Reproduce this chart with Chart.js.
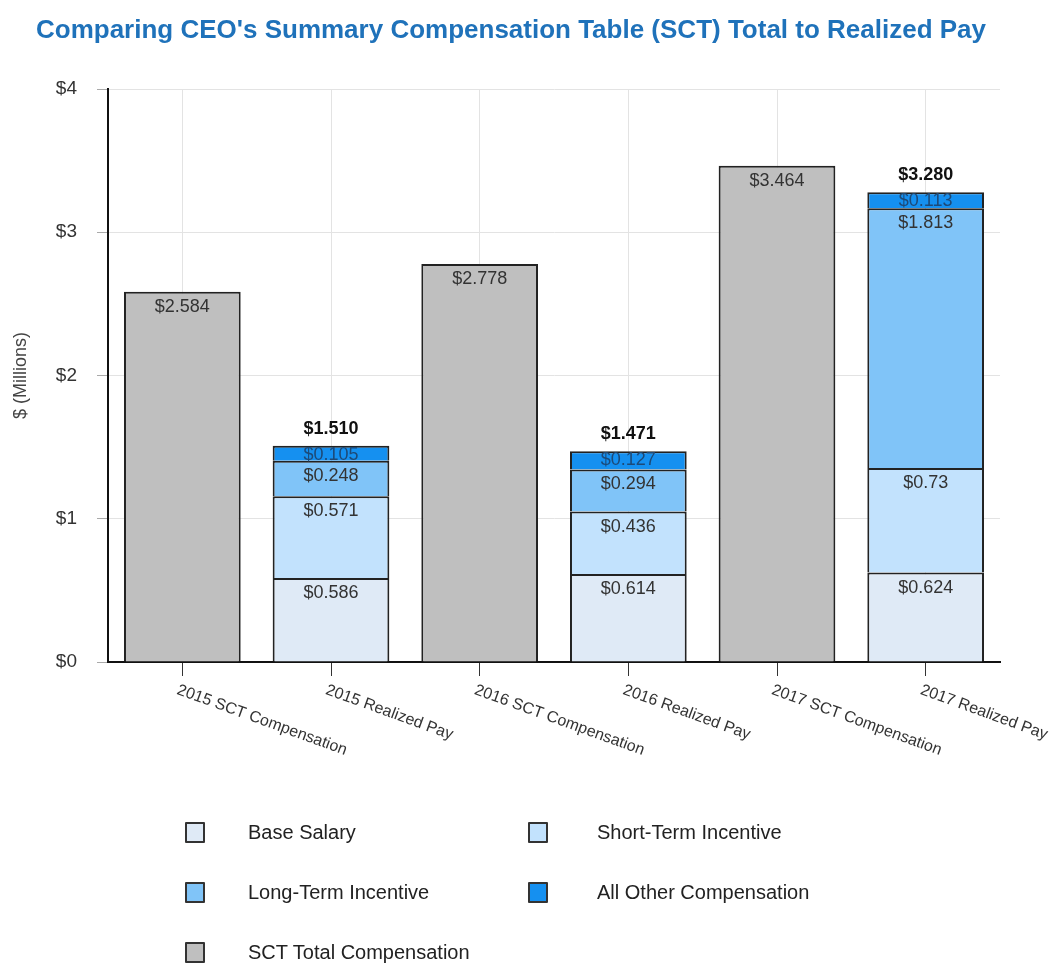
<!DOCTYPE html>
<html>
<head>
<meta charset="utf-8">
<script src="https://cdn.jsdelivr.net/npm/chart.js@4.4.1/dist/chart.umd.min.js"></script>
<style>
  body { margin: 0; background: #fff; font-family: "Liberation Sans", Arial, sans-serif; }
  #wrap { position: relative; width: 1061px; height: 963px; }
  #title {
    position: absolute; left: 36px; top: 14px; margin: 0;
    font-size: 26px; font-weight: bold; color: #1f72ba; white-space: nowrap;
  }
  #legend { position: absolute; left: 185px; top: 821px; display: grid;
    grid-template-columns: 343px 300px; row-gap: 38px; }
  .item { display: flex; align-items: center; height: 22px; font-size: 20px; color: #222; }
  .box { width: 16px; height: 17px; border: 2px solid #333; margin-right: 43px; border-radius: 1px; }
  .item.c2 .box { margin-right: 49px; }
</style>
</head>
<body>
<div id="wrap">
  <h1 id="title">Comparing CEO's Summary Compensation Table (SCT) Total to Realized Pay</h1>
  <canvas id="payChart" width="1061" height="963"></canvas>
  <div id="legend"></div>
</div>
<script>
const categories = [
  "2015 SCT Compensation", "2015 Realized Pay",
  "2016 SCT Compensation", "2016 Realized Pay",
  "2017 SCT Compensation", "2017 Realized Pay"
];

// $ millions; null where a category does not use the series
const baseSalary = [null, 0.586, null, 0.614, null, 0.624];
const shortTermIncentive = [null, 0.571, null, 0.436, null, 0.73];
const longTermIncentive = [null, 0.248, null, 0.294, null, 1.813];
const allOtherComp = [null, 0.105, null, 0.127, null, 0.113];
const sctTotal = [2.584, null, 2.778, null, 3.464, null];

const yTicks = [0, 1, 2, 3, 4];

const FONT = "'Liberation Sans', Arial, sans-serif";

// value labels inside each segment, plus bold totals over realized stacks
const barLabels = {
  id: "barLabels",
  afterDatasetsDraw(chart) {
    const ctx = chart.ctx;
    const yScale = chart.scales.y;
    ctx.save();
    ctx.textAlign = "center";
    chart.data.datasets.forEach((ds, di) => {
      const meta = chart.getDatasetMeta(di);
      meta.data.forEach((el, i) => {
        const v = ds.data[i];
        if (v == null) return;
        const h = el.base - el.y;
        ctx.font = "18px " + FONT;
        ctx.fillStyle = h < 20 ? "#1d4a78" : "#333";
        ctx.textBaseline = "top";
        ctx.fillText("$" + String(v), el.x, el.y + (h < 20 ? 0 : 6));
      });
    });

    const realized = [baseSalary, shortTermIncentive, longTermIncentive, allOtherComp];
    const meta0 = chart.getDatasetMeta(0);
    categories.forEach((c, i) => {
      if (baseSalary[i] == null) return;
      const total = realized.reduce((s, arr) => s + arr[i], 0);
      const x = meta0.data[i].x;
      const y = yScale.getPixelForValue(total);
      ctx.font = "bold 18px " + FONT;
      ctx.fillStyle = "#111";
      ctx.textBaseline = "bottom";
      ctx.fillText("$" + total.toFixed(3), x, y - 8);
    });
    ctx.restore();
  }
};

// category names slanted downward to the right, starting at each tick
const slantedTicks = {
  id: "slantedTicks",
  afterDraw(chart) {
    const ctx = chart.ctx;
    const xScale = chart.scales.x;
    ctx.save();
    ctx.font = "16px " + FONT;
    ctx.fillStyle = "#333";
    ctx.textAlign = "left";
    ctx.textBaseline = "top";
    categories.forEach((c, i) => {
      const x = xScale.getPixelForTick(i);
      ctx.save();
      ctx.translate(x - 2, xScale.top + 20);
      ctx.rotate(20 * Math.PI / 180);
      ctx.fillText(c, 0, 0);
      ctx.restore();
    });
    ctx.restore();
  }
};

const chart = new Chart(document.getElementById("payChart"), {
  type: "bar",
  data: {
    labels: categories,
    datasets: [
      { label: "Base Salary", data: baseSalary, backgroundColor: "#dfeaf6" },
      { label: "Short-Term Incentive", data: shortTermIncentive, backgroundColor: "#c2e2fd" },
      { label: "Long-Term Incentive", data: longTermIncentive, backgroundColor: "#80c4f8" },
      { label: "All Other Compensation", data: allOtherComp, backgroundColor: "#1590f0" },
      { label: "SCT Total Compensation", data: sctTotal, backgroundColor: "#bfbfbf" }
    ].map(d => Object.assign(d, {
      borderColor: "#222",
      borderWidth: { top: 2, left: 2, right: 2, bottom: 0 },
      borderSkipped: false,
      barPercentage: 0.785,
      categoryPercentage: 1
    }))
  },
  options: {
    responsive: false,
    animation: false,
    layout: { padding: { left: 0, top: 89, right: 61, bottom: 271 } },
    plugins: {
      legend: { display: false },
      tooltip: { enabled: false },
      title: { display: false }
    },
    scales: {
      x: {
        stacked: true,
        grid: {
          offset: false,
          color: "#e3e3e3",
          tickColor: "#333",
          tickLength: 14,
          lineWidth: 1
        },
        border: { display: true, color: "#111", width: 2 },
        ticks: { display: false },
        afterFit(scale) { scale.height = 30; }
      },
      y: {
        stacked: true,
        min: 0,
        max: 4,
        afterBuildTicks(scale) { scale.ticks = yTicks.map(v => ({ value: v })); },
        grid: { color: "#e3e3e3", tickColor: "#aaa", tickLength: 11 },
        border: { display: true, color: "#111", width: 2 },
        ticks: {
          padding: 20,
          color: "#333",
          font: { size: 19, family: FONT },
          callback: v => "$" + v
        },
        title: {
          display: true,
          text: "$ (Millions)",
          color: "#444",
          font: { size: 18, family: FONT },
          padding: { top: 10, bottom: 0 }
        },
        afterFit(scale) { scale.width = 108; }
      }
    }
  },
  plugins: [barLabels, slantedTicks]
});

// two-column legend under the plot
const legend = document.getElementById("legend");
chart.data.datasets.forEach((ds, i) => {
  const item = document.createElement("div");
  item.className = "item" + (i % 2 ? " c2" : "");
  const box = document.createElement("span");
  box.className = "box";
  box.style.background = ds.backgroundColor;
  item.appendChild(box);
  item.appendChild(document.createTextNode(ds.label));
  legend.appendChild(item);
});
</script>
</body>
</html>
